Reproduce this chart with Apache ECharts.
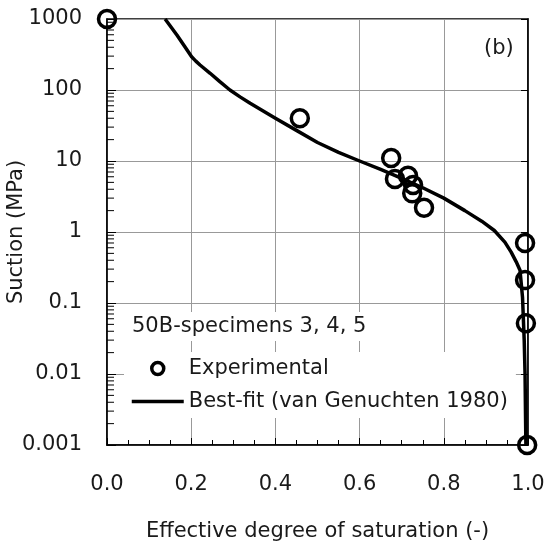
<!DOCTYPE html>
<html>
<head>
<meta charset="utf-8">
<script src="https://cdn.jsdelivr.net/npm/echarts@6/dist/echarts.min.js"></script>
<style>
  html, body { margin: 0; padding: 0; background: #fff; }
  #chart { width: 547px; height: 546px; }
</style>
</head>
<body>
<div id="chart"></div>
<script>
// measured points (Se, suction MPa)
const expSe = [0.0, 0.458, 0.675, 0.684, 0.715, 0.727, 0.725, 0.753, 0.993, 0.993, 0.995, 0.998];
const expSuction = [1000, 40, 11, 5.6, 6.2, 4.6, 3.5, 2.2, 0.70, 0.21, 0.052, 0.001];

// best-fit curve
const fitSe = [0.138, 0.152, 0.166, 0.185, 0.201, 0.211, 0.221, 0.245, 0.268, 0.292, 0.316, 0.34, 0.37,
  0.40, 0.45, 0.50, 0.55, 0.60, 0.65, 0.70, 0.75, 0.80, 0.85, 0.89, 0.92, 0.945, 0.96, 0.972,
  0.981, 0.987, 0.991, 0.993, 0.994, 0.995];
const fitSuction = [1000, 770, 596, 408, 294, 255, 225, 172, 131, 100, 80, 65, 51,
  40, 27, 18.2, 13.2, 10, 7.6, 5.7, 4.2, 3.0, 2.0, 1.42, 1.05, 0.72, 0.52, 0.38,
  0.29, 0.12, 0.03, 0.01, 0.003, 0.001];

const yTickLabels = ["0.001", "0.01", "0.1", "1", "10", "100", "1000"];
const xTickLabels = ["0.0", "0.2", "0.4", "0.6", "0.8", "1.0"];

// log minor ticks 2..9 in each decade
const yMinor = [];
for (let k = -3; k < 3; k++) {
  for (let m = 2; m <= 9; m++) yMinor.push(m * Math.pow(10, k));
}

const FONT = "DejaVu Sans";
const TXT = "#1a1a1a";

const chart = echarts.init(document.getElementById("chart"));

const option = {
  animation: false,
  grid: {
    left: 107, right: 19, top: 19, bottom: 101,
    containLabel: false, outerBoundsMode: "none",
    show: true, borderColor: "#000", borderWidth: 1.5
  },
  title: {
    text: "50B-specimens 3, 4, 5",
    left: 126, top: 312,
    backgroundColor: "#fff",
    padding: [4, 6],
    textStyle: { fontFamily: FONT, fontSize: 21, fontWeight: "normal", color: TXT }
  },
  legend: {
    orient: "vertical",
    left: 124, top: 352,
    padding: [6, 8, 6, 6],
    backgroundColor: "#fff",
    itemWidth: 52, itemHeight: 12, itemGap: 12,
    textStyle: { fontFamily: FONT, fontSize: 21, color: TXT },
    data: [
      { name: "Experimental", icon: "circle",
        itemStyle: { color: "#fff", borderColor: "#000", borderWidth: 3.5 } },
      { name: "Best-fit (van Genuchten 1980)", itemStyle: { opacity: 0 },
        lineStyle: { color: "#000", width: 3.5 } }
    ]
  },
  graphic: [{
    type: "text", left: 484, top: 38,
    style: { text: "(b)", font: "21px 'DejaVu Sans'", fill: TXT }
  }],
  xAxis: {
    type: "value", min: 0, max: 1, interval: 0.2,
    name: "Effective degree of saturation (-)",
    nameLocation: "middle", nameGap: 76,
    nameTextStyle: { fontFamily: FONT, fontSize: 21, color: TXT },
    axisLine: { lineStyle: { color: "#000", width: 1.5 } },
    axisTick: { inside: true, length: 7, lineStyle: { color: "#000" } },
    minorTick: { show: true, splitNumber: 4, length: 5, lineStyle: { color: "#000" } },
    axisLabel: {
      margin: 29, fontFamily: FONT, fontSize: 21, color: TXT,
      formatter: v => xTickLabels[Math.round(v / 0.2)]
    },
    splitLine: { show: true, lineStyle: { color: "#999", width: 1 } }
  },
  yAxis: [{
    type: "log", logBase: 10, min: 0.001, max: 1000,
    name: "Suction (MPa)",
    nameLocation: "middle", nameGap: 80, nameMoveOverlap: false,
    nameTextStyle: { fontFamily: FONT, fontSize: 21, color: TXT },
    axisLine: { show: true, lineStyle: { color: "#000", width: 1.5 } },
    axisTick: { inside: true, length: 9, lineStyle: { color: "#000" } },
    axisLabel: {
      margin: 25, fontFamily: FONT, fontSize: 21, color: TXT,
      formatter: v => yTickLabels[Math.round(Math.log10(v)) + 3]
    },
    splitLine: { show: true, lineStyle: { color: "#999", width: 1 } }
  }, {
    type: "log", logBase: 10, min: 0.001, max: 1000, position: "right",
    axisLine: { show: true, lineStyle: { color: "#000", width: 1.5 } },
    axisTick: { inside: true, length: 7, lineStyle: { color: "#000" } },
    axisLabel: { show: false },
    splitLine: { show: false }
  }],
  series: [
    {
      type: "custom",
      silent: true,
      data: yMinor.map(v => [0, v]),
      renderItem: (params, api) => {
        const p = api.coord([0, api.value(1)]);
        return {
          type: "line",
          shape: { x1: p[0], y1: p[1], x2: p[0] + 7, y2: p[1] },
          style: { stroke: "#000", lineWidth: 1 }
        };
      },
      z: 1
    },
    {
      name: "Best-fit (van Genuchten 1980)",
      type: "line",
      data: fitSe.map((s, i) => [s, fitSuction[i]]),
      symbol: "none",
      showSymbol: false,
      itemStyle: { color: "#000" },
      lineStyle: { color: "#000", width: 3.5, join: "round" },
      z: 3
    },
    {
      name: "Experimental",
      type: "scatter",
      data: expSe.map((s, i) => [s, expSuction[i]]),
      symbol: "circle",
      symbolSize: 17,
      clip: false,
      itemStyle: { color: "rgba(255,255,255,0)", borderColor: "#000", borderWidth: 3.5, opacity: 1 },
      z: 4
    }
  ]
};

chart.setOption(option);
</script>
</body>
</html>
